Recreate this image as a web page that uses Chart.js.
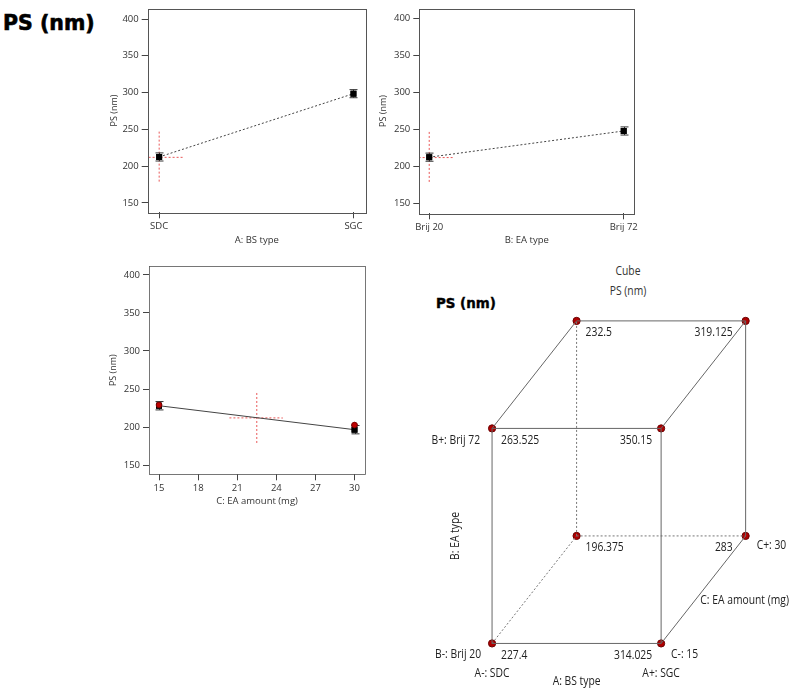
<!DOCTYPE html>
<html>
<head>
<meta charset="utf-8">
<script src="https://cdn.jsdelivr.net/npm/chart.js@4.4.0/dist/chart.umd.min.js"></script>
<style>
  body { margin: 0; background: #fff; width: 800px; height: 698px; position: relative; overflow: hidden; font-family: 'Open Sans', sans-serif; color: #333; }
  canvas { position: absolute; }
  .big { position: absolute; font-family: 'DejaVu Sans', sans-serif; font-weight: 900; color: #000; white-space: nowrap; -webkit-text-stroke: 0.6px #000; }
  .lbl { position: absolute; font-size: 12px; color: #333; white-space: nowrap; transform: translateX(-50%) scaleX(0.86); }
</style>
</head>
<body>
<div class="big" style="left:3px;top:11px;font-size:20.5px;">PS (nm)</div>
<div class="big" style="left:436px;top:296px;font-size:13.4px;-webkit-text-stroke:0.4px #000;">PS (nm)</div>
<div class="lbl" style="left:628px;top:262px;">Cube</div>
<div class="lbl" style="left:628px;top:282px;">PS (nm)</div>

<canvas id="chartA" width="270" height="250" style="left:100px;top:0px;"></canvas>
<canvas id="chartB" width="270" height="250" style="left:370px;top:0px;"></canvas>
<canvas id="chartC" width="270" height="256" style="left:100px;top:255px;"></canvas>
<canvas id="cube" width="400" height="438" style="left:400px;top:260px;"></canvas>

<script>
// ---- data ----
const psTicks = [150, 200, 250, 300, 350, 400]

// A: BS type
const aLevels = [-1, 1]
const aLabels = ['SDC', 'SGC']
const aMeans = [212.5, 298.5]
const aErr = [5.5, 5.5]

// B: EA type
const bLevels = [-1, 1]
const bLabels = ['Brij 20', 'Brij 72']
const bMeans = [212.5, 248]
const bErr = [5.5, 5.5]

// C: EA amount (mg)
const cTicks = [15, 18, 21, 24, 27, 30]
const cLevels = [15, 30]
const cMeans = [228, 196.5]
const cErr = [5.5, 5.5]
const cDesign = [229, 202.5]

// red design-centre cross (PS range and centre)
const crossPS = 212
const crossSpan = [179, 247.5]
const crossA = [-1.15, -0.75]
const crossB = [-1.15, -0.75]
const crossCx = 22.5
const crossC = [20.4, 24.5]

// cube corners (coded A, B, C) and predicted PS
const cubeA = [-1, 1, -1, 1, -1, 1, -1, 1]
const cubeB = [-1, -1, 1, 1, -1, -1, 1, 1]
const cubeC = [-1, -1, -1, -1, 1, 1, 1, 1]
const cubePS = [227.4, 314.025, 263.525, 350.15, 196.375, 283, 232.5, 319.125]

Chart.defaults.font.family = "'Open Sans', sans-serif"
Chart.defaults.color = '#333'
Chart.defaults.animation = false

const RED = 'rgba(232,70,70,0.9)'

// box around the plot area + error bars
const frameAndErrors = {
    id: 'frameAndErrors',
    afterDatasetsDraw(chart) {
        const ctx = chart.ctx, a = chart.chartArea
        const xs = chart.scales.x, ys = chart.scales.y
        const errs = chart.options.plugins.frameAndErrors.errors
        const meta = chart.getDatasetMeta(0)
        const data = chart.data.datasets[0].data
        ctx.save()
        ctx.strokeStyle = '#333'
        ctx.lineWidth = 1
        data.forEach((p, i) => {
            const x = Math.round(xs.getPixelForValue(p.x)) + 0.5
            const y1 = ys.getPixelForValue(p.y + errs[i])
            const y2 = ys.getPixelForValue(p.y - errs[i])
            ctx.beginPath()
            ctx.moveTo(x, y1); ctx.lineTo(x, y2)
            ctx.moveTo(x - 4, y1); ctx.lineTo(x + 4, y1)
            ctx.moveTo(x - 4, y2); ctx.lineTo(x + 4, y2)
            ctx.stroke()
        })
        // redraw the means on top of the bars
        meta.data.forEach(el => el.draw(ctx))
        // design points drawn last
        if (chart.data.datasets.length > 3) {
            chart.getDatasetMeta(3).data.forEach(el => el.draw(ctx))
        }
        ctx.strokeStyle = '#555'
        ctx.strokeRect(Math.round(a.left) + 0.5, Math.round(a.top) + 0.5,
            Math.round(a.right - a.left), Math.round(a.bottom - a.top))
        ctx.restore()
    }
}

function effectChart(id, cfg) {
    const means = cfg.levels.map((x, i) => ({ x: x, y: cfg.means[i] }))
    const datasets = [
        {
            data: means,
            showLine: true,
            borderColor: '#444',
            borderWidth: 1,
            borderDash: cfg.dash,
            pointStyle: 'rect',
            pointRadius: 4.2,
            pointBackgroundColor: '#000',
            pointBorderColor: '#000',
            pointBorderWidth: 0,
            order: 1
        },
        {
            data: [{ x: cfg.crossX, y: crossSpan[0] }, { x: cfg.crossX, y: crossSpan[1] }],
            showLine: true, borderColor: RED, borderWidth: 1, borderDash: [2, 2],
            pointRadius: 0, order: 2
        },
        {
            data: [{ x: cfg.crossH[0], y: crossPS }, { x: cfg.crossH[1], y: crossPS }],
            showLine: true, borderColor: RED, borderWidth: 1, borderDash: [2, 2],
            pointRadius: 0, order: 2
        }
    ]
    if (cfg.design) {
        datasets.push({
            data: cfg.levels.map((x, i) => ({ x: x, y: cfg.design[i] })),
            showLine: false, pointRadius: 2.8, pointBackgroundColor: '#c00000',
            pointBorderColor: '#7a0000', pointBorderWidth: 0.8, order: 0
        })
    }
    return new Chart(id, {
        type: 'scatter',
        data: { datasets: datasets },
        plugins: [frameAndErrors],
        options: {
            responsive: false,
            devicePixelRatio: 1,
            layout: { padding: cfg.pad },
            plugins: { legend: { display: false }, tooltip: { enabled: false }, frameAndErrors: { errors: cfg.err } },
            scales: {
                x: {
                    type: 'linear', min: cfg.xMin, max: cfg.xMax,
                    afterBuildTicks: s => { s.ticks = cfg.xTicks.map(v => ({ value: v })) },
                    afterFit: s => { s.height = cfg.xH },
                    ticks: { font: { size: 9.5 }, padding: 2, maxRotation: 0, autoSkip: false,
                        callback: (v) => cfg.xLabels ? cfg.xLabels[cfg.xTicks.indexOf(v)] : v },
                    grid: { drawOnChartArea: false, drawTicks: true, tickLength: 6, color: '#444' },
                    border: { display: false },
                    title: { display: true, text: cfg.xTitle, font: { size: 9.5 } }
                },
                y: {
                    type: 'linear', min: cfg.yMin, max: cfg.yMax,
                    afterBuildTicks: s => { s.ticks = psTicks.map(v => ({ value: v })) },
                    afterFit: s => { s.width = cfg.yW },
                    ticks: { font: { size: 9.5 }, padding: 3 },
                    grid: { drawOnChartArea: false, drawTicks: true, tickLength: 6, color: '#444' },
                    border: { display: false },
                    title: { display: true, text: 'PS (nm)', font: { size: 9 } }
                }
            }
        }
    })
}

effectChart('chartA', {
    levels: aLevels, means: aMeans, err: aErr, dash: [2, 2],
    crossX: aLevels[0], crossH: crossA,
    xTicks: aLevels, xLabels: aLabels, xTitle: 'A: BS type',
    xMin: -1.118, xMax: 1.127, yMin: 137.3, yMax: 414,
    pad: { left: 4.6, right: 2.3, top: 2.7, bottom: 0 }, yW: 43.1, xH: 37.7
})

effectChart('chartB', {
    levels: bLevels, means: bMeans, err: bErr, dash: [2, 2],
    crossX: bLevels[0], crossH: crossB,
    xTicks: bLevels, xLabels: bLabels, xTitle: 'B: EA type',
    xMin: -1.102, xMax: 1.109, yMin: 136.5, yMax: 413.6,
    pad: { left: 3.9, right: 4.3, top: 3, bottom: 0 }, yW: 45.4, xH: 36.7
})

effectChart('chartC', {
    levels: cLevels, means: cMeans, err: cErr, dash: [], design: cDesign,
    crossX: crossCx, crossH: crossC,
    xTicks: cTicks, xLabels: null, xTitle: 'C: EA amount (mg)',
    xMin: 14.23, xMax: 30.82, yMin: 137.8, yMax: 411.8,
    pad: { left: 3.9, right: 4.3, top: 11, bottom: 0 }, yW: 45.1, xH: 36.7
})

// ---- cube plot ----
const corners = cubePS.map((v, i) => ({
    x: (cubeA[i] + 1) / 2 + 0.5 * (cubeC[i] + 1) / 2,
    y: (cubeB[i] + 1) / 2 + 0.5 * (cubeC[i] + 1) / 2
}))
const hidden = 4   // A-, B-, C+ corner sits behind the cube
const edgeSets = []
for (let i = 0; i < 8; i++) {
    for (let j = i + 1; j < 8; j++) {
        const d = (cubeA[i] != cubeA[j]) + (cubeB[i] != cubeB[j]) + (cubeC[i] != cubeC[j])
        if (d !== 1) continue
        const back = (i === hidden || j === hidden)
        edgeSets.push({
            data: [corners[i], corners[j]],
            showLine: true,
            borderColor: back ? '#777' : '#666',
            borderWidth: 1,
            borderDash: back ? [2, 2] : [],
            pointRadius: 0
        })
    }
}

function sqText(ctx, txt, x, y, align, rot) {
    ctx.save()
    ctx.translate(x, y)
    if (rot) ctx.rotate(rot)
    ctx.scale(0.86, 1)
    ctx.textAlign = align
    ctx.textBaseline = 'middle'
    ctx.fillText(txt, 0, 0)
    ctx.restore()
}

const cubeLabels = {
    id: 'cubeLabels',
    afterDatasetsDraw(chart) {
        const ctx = chart.ctx
        const xs = chart.scales.x, ys = chart.scales.y
        const px = corners.map(c => xs.getPixelForValue(c.x))
        const py = corners.map(c => ys.getPixelForValue(c.y))
        ctx.save()
        ctx.fillStyle = '#222'
        ctx.font = "12px 'Open Sans', sans-serif"
        cubePS.forEach((v, i) => {
            if (cubeA[i] < 0) sqText(ctx, String(v), px[i] + 9, py[i] + 12, 'left')
            else sqText(ctx, String(v), px[i] - (cubeC[i] > 0 ? 13 : 9), py[i] + 12, 'right')
        })
        sqText(ctx, 'B+: ' + bLabels[1], px[2] - 12, py[2] + 12, 'right')
        sqText(ctx, 'B-: ' + bLabels[0], px[0] - 11, py[0] + 11, 'right')
        sqText(ctx, 'A-: ' + aLabels[0], px[0], py[0] + 30, 'center')
        sqText(ctx, 'A+: ' + aLabels[1], px[1], py[1] + 30, 'center')
        sqText(ctx, 'A: BS type', (px[0] + px[1]) / 2, py[0] + 38, 'center')
        sqText(ctx, 'C-: ' + cLevels[0], px[1] + 10, py[1] + 11, 'left')
        sqText(ctx, 'C+: ' + cLevels[1], px[5] + 11, py[5] + 10, 'left')
        sqText(ctx, 'C: EA amount (mg)', (px[1] + px[5]) / 2 - 3, (py[1] + py[5]) / 2 + 11, 'left')
        sqText(ctx, 'B: EA type', px[0] - 36, (py[0] + py[2]) / 2, 'center', -Math.PI / 2)
        ctx.restore()
    }
}

new Chart('cube', {
    type: 'scatter',
    data: {
        datasets: edgeSets.concat([{
            data: corners,
            pointRadius: 3.6,
            pointBackgroundColor: '#b00000',
            pointBorderColor: '#6a0000',
            pointBorderWidth: 1
        }])
    },
    plugins: [cubeLabels],
    options: {
        responsive: false,
        devicePixelRatio: 1,
        layout: { padding: 0 },
        plugins: { legend: { display: false }, tooltip: { enabled: false } },
        scales: {
            x: { type: 'linear', display: false, min: -0.515, max: 1.792 },
            y: { type: 'linear', display: false, min: -0.2305, max: 1.760 }
        }
    }
})
</script>
</body>
</html>
